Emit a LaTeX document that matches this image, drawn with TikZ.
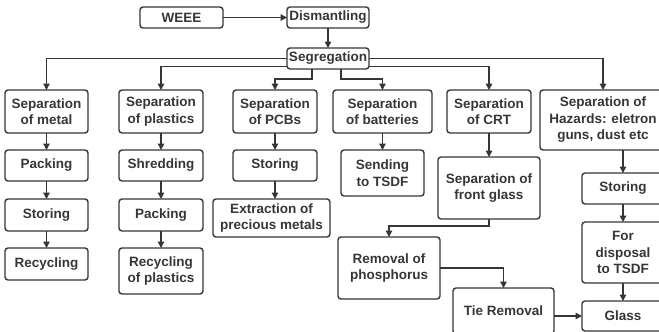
\documentclass[tikz,border=0pt]{standalone}
\usepackage{fontspec}
\setmainfont{Liberation Sans}
\usetikzlibrary{arrows.meta}
\definecolor{ink}{HTML}{363636}
\tikzset{
  box/.style={draw=ink, text=ink, line width=1.4pt, rounded corners=3pt, align=center,
    inner sep=0pt, outer sep=0pt,
    font=\fontsize{13.5}{16.5}\selectfont\bfseries},
  arr/.style={draw=ink, line width=1.4pt, -{Triangle[length=6.5pt,width=6.5pt]}},
}
\newcommand{\bx}[6]{\node[box, minimum width={(#4-#2)*1pt}, minimum height={(#5-#3)*1pt}] (#1) at ({(#2+#4)/2},{(#3+#5)/2}) {#6};}
\begin{document}
\begin{tikzpicture}[x=1pt,y=-1pt]
\useasboundingbox (0,0) rectangle (659,332);
\clip (0,0) rectangle (659,332);
\bx{weee}{140}{7}{223}{28}{WEEE}
\bx{dism}{287}{7}{369}{28}{Dismantling}
\bx{seg}{287}{48}{369}{69}{Segregation}
\bx{metal}{5}{90}{88}{133}{Separation\\of metal}
\bx{plast}{119}{90}{203}{133}{Separation\\of plastics}
\bx{pcb}{233}{90}{317}{133}{Separation\\of PCBs}
\bx{batt}{333}{90}{432}{133}{Separation\\of batteries}
\bx{crt}{447}{90}{531}{133}{Separation\\of CRT}
\bx{haz}{540}{90}{666}{150}{Separation of\\Hazards: eletron\\guns, dust etc}
\bx{packa}{5}{150}{88}{181}{Packing}
\bx{shred}{119}{150}{203}{181}{Shredding}
\bx{stora}{233}{150}{317}{181}{Storing}
\bx{send}{341}{150}{424}{196}{Sending\\to TSDF}
\bx{front}{438}{157}{540}{219}{Separation of\\front glass}
\bx{storb}{582}{173}{664}{204}{Storing}
\bx{storc}{5}{199}{88}{231}{Storing}
\bx{packb}{119}{199}{203}{231}{Packing}
\bx{extr}{213}{199}{330}{237}{Extraction of\\precious metals}
\bx{phos}{338}{237}{440}{299}{Removal of\\phosphorus}
\bx{disp}{582}{222}{664}{283}{For\\disposal\\to TSDF}
\bx{recy}{5}{248}{88}{280}{Recycling}
\bx{recp}{119}{248}{203}{294}{Recycling\\of plastics}
\bx{tie}{453}{288}{554}{334}{Tie Removal}
\bx{glass}{582}{301}{664}{331}{Glass}
% connectors
\draw[arr] (weee) -- (dism);
\draw[arr] (dism) -- (seg);
\draw[arr] (seg.west) -| (metal.north);
\draw[arr] ([yshift=-8pt]seg.west) -| (plast.north);
\draw[arr] ([xshift=-16pt]seg.south) -- ++(0,10) -| (pcb.north);
\draw[arr] ([xshift=13pt]seg.south) -- ++(0,10) -| (batt.north);
\draw[arr] ([yshift=-8pt]seg.east) -| (crt.north);
\draw[arr] (seg.east) -| (haz.north);
\draw[arr] (metal) -- (packa);
\draw[arr] (packa) -- (storc);
\draw[arr] (storc) -- (recy);
\draw[arr] (plast) -- (shred);
\draw[arr] (shred) -- (packb);
\draw[arr] (packb) -- (recp);
\draw[arr] (pcb) -- (stora);
\draw[arr] (stora.south) -- (stora.south |- extr.north);
\draw[arr] (batt) -- (send);
\draw[arr] (crt) -- (front);
\draw[arr] (front.south) -- ++(0,7) -| (phos.north);
\draw[arr] (phos.east) -| (tie.north);
\draw[arr] ([yshift=-5pt]tie.east) -- (glass.west);
\draw[arr] (storb.north |- haz.south) -- (storb.north);
\draw[arr] (storb) -- (disp);
\draw[arr] (disp) -- (glass);
\end{tikzpicture}
\end{document}
